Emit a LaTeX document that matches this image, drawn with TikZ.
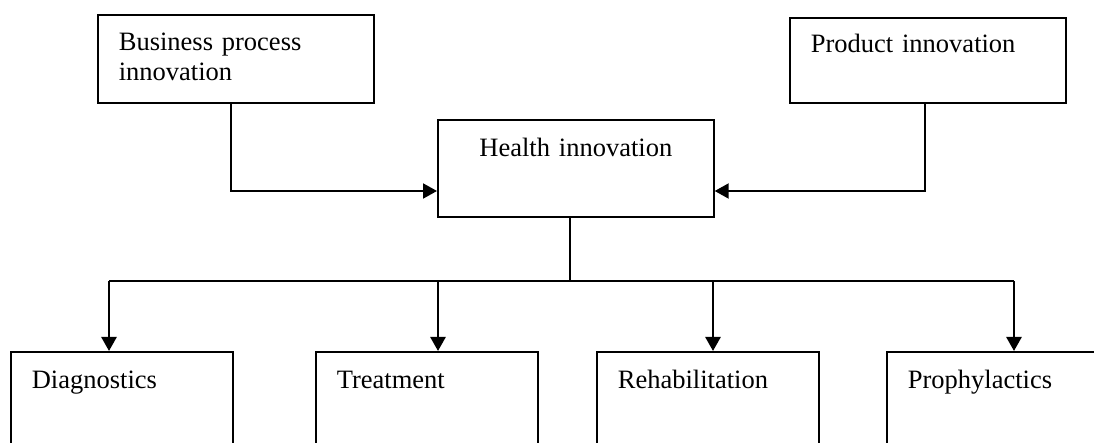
\documentclass[tikz,border=0pt]{standalone}
\usepackage{fontspec}
\setmainfont{Liberation Serif}
\usepackage{tikz}
\usetikzlibrary{arrows.meta,calc,positioning}
\tikzset{
    mybox/.style={draw=black,line width=0.85pt,rectangle,anchor=north west,inner ysep=0pt,inner xsep=10.5pt,align=left},
    topbox/.style={mybox,text width=117pt},
    lowbox/.style={mybox,text width=90pt,text height=18.5pt,text depth=41pt},
    myarrow/.style={line width=1.3pt,-{Triangle[length=7pt,width=7.5pt]}},
    myline/.style={line width=0.75pt,draw=black},
    every node/.style={font=\fontsize{13.25}{15}\selectfont}
}
\begin{document}
\begin{tikzpicture}[x=0.5pt,y=-0.5pt]
  \useasboundingbox (0,0) rectangle (1094,443);
  \clip (0,0) rectangle (1094,443);

  %---------------- top row ----------------
            \node[topbox,text height=18pt,text depth=26pt] (bpi) at (97,14) {Business process\\innovation};
            \node[topbox,text height=17.5pt,text depth=25pt] (prod) at (789,17) {Product innovation};
            \node[mybox,inner xsep=0pt,text width=138pt,align=center,text height=18.5pt,text depth=30pt] (health) at (437,119) {Health innovation};

  % 两侧汇入
            \coordinate (bcorner) at (231,191);
            \coordinate (pcorner) at (925,191);
            \draw[myarrow,line width=1pt] (bpi.south -| bcorner) -- (bcorner) -- (bcorner -| health.west);
            \draw[myarrow,line width=1pt] (prod.south -| pcorner) -- (pcorner) -- (pcorner -| health.east);

  %---------------- bottom row ----------------
            \node[lowbox] (diag) at (10,351) {Diagnostics};
            \node[lowbox] (treat) at (315,351) {Treatment};
            \node[lowbox] (rehab) at (596,351) {Rehabilitation};
            \node[lowbox] (proph) at (886,351) {Prophylactics};

  % 分支线
            \coordinate (hub) at (570,281);
            \draw[myline,line width=0.65pt] (health.south -| hub) -- (hub);
            \draw[myline] (109,281) coordinate (busL) -- (1014,281) coordinate (busR);

            \foreach \x/\n in {109/diag,438/treat,713/rehab,1014/proph}{
                \coordinate (b\n) at (\x,281);
                \draw[myarrow] (b\n) -- (b\n |- \n.north);
            }

\end{tikzpicture}
\end{document}
